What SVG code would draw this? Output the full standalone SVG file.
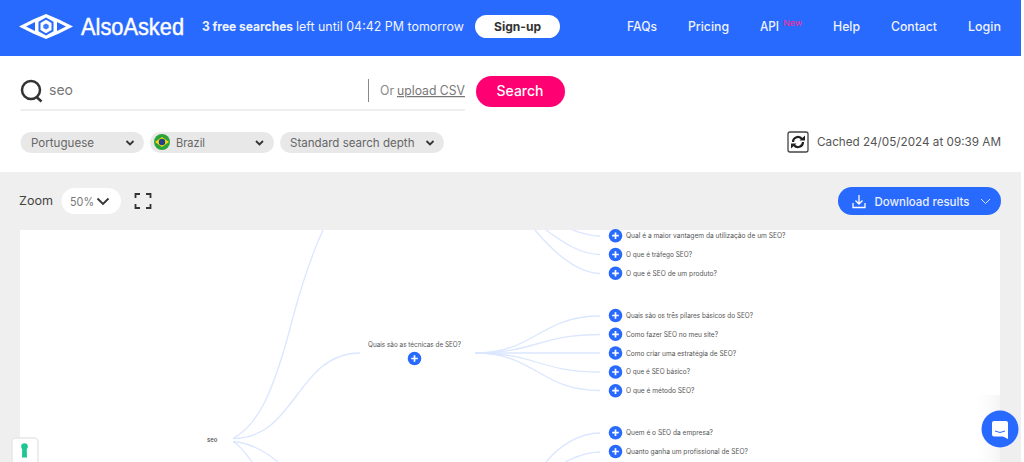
<svg xmlns="http://www.w3.org/2000/svg" width="1024" height="462" viewBox="0 0 1024 462">
<style>
text{font-family:"Inter","Open Sans","Liberation Sans",sans-serif}
.nav{font-size:12.5px;fill:#eef3ff;font-weight:500}
.pill{fill:#e8e8e8}
.pt{font-size:11.5px;fill:#666}
.chev{fill:none;stroke:#333;stroke-width:1.8}
.q{font-size:7px;fill:#555}
.link{fill:none;stroke:#dbe6ff;stroke-width:1.3}
.add{fill:#2869fe}
.plus{stroke:#fff;stroke-width:1.7;fill:none}
</style>
<defs>
<g id="plusbtn"><circle class="add" r="6.8"/><path class="plus" d="M-3.300 0H3.300M0-3.300V3.300"/></g>
<linearGradient id="shadow" x1="0" x2="1" y1="0" y2="0"><stop offset="0" stop-color="#fff" stop-opacity="0"/><stop offset="1" stop-color="#eee"/></linearGradient>
<clipPath id="canvas"><rect x="20" y="230" width="980" height="232"/></clipPath>
</defs>
<rect width="1024" height="462" fill="#fff"/>
<rect y="172" width="1021" height="290" fill="#efefef"/>
<rect x="20" y="230" width="980" height="232" fill="#fff"/>

<g id="header">
<rect width="1021" height="56" fill="#2869fe"/>
<g id="logo">
<path fill="#fff" d="M19 26.500L33 19.500L46 14L59 19.500L73 26.500L59 33.500L46 39L33 33.500Z"/>
<path fill="#2869fe" d="M26 26.500L35 22V31ZM66 26.500L57 22V31Z"/>
<path fill="#2869fe" d="M46 17.500L53.500 21.700V31.300L46 35.500L38.500 31.300V21.700Z"/>
<path fill="#fff" d="M46 19.800L51.500 23V30L46 33.200L40.500 30V23Z"/>
<path fill="#3f7bfe" d="M46 23.500L48.700 25V28L46 29.500L43.300 28V25Z"/>
</g>
<text x="81" y="35" font-size="24" fill="#fff" stroke="#fff" stroke-width=".45" textLength="103" lengthAdjust="spacingAndGlyphs" style="font-family:'Liberation Sans',sans-serif">AlsoAsked</text>
<text x="202" y="31" font-size="12.500" font-weight="700" fill="#eef3ff" textLength="91" lengthAdjust="spacingAndGlyphs">3 free searches</text>
<text x="296" y="31" font-size="12.500" fill="#eef3ff" textLength="168" lengthAdjust="spacingAndGlyphs">left until 04:42 PM tomorrow</text>
<rect x="475" y="15" width="85" height="23" rx="11.500" fill="#fff"/>
<text x="494" y="31" font-size="12" font-weight="700" fill="#333" textLength="47" lengthAdjust="spacingAndGlyphs">Sign-up</text>
<text class="nav" x="627" y="31" textLength="30" lengthAdjust="spacingAndGlyphs">FAQs</text>
<text class="nav" x="688" y="31" textLength="41" lengthAdjust="spacingAndGlyphs">Pricing</text>
<text class="nav" x="760" y="31" textLength="19" lengthAdjust="spacingAndGlyphs">API</text>
<text x="783" y="26" font-size="8" fill="#ff2a90" textLength="19" lengthAdjust="spacingAndGlyphs">New</text>
<text class="nav" x="833" y="31" textLength="27" lengthAdjust="spacingAndGlyphs">Help</text>
<text class="nav" x="891" y="31" textLength="46" lengthAdjust="spacingAndGlyphs">Contact</text>
<text class="nav" x="968" y="31" textLength="33" lengthAdjust="spacingAndGlyphs">Login</text>
</g>

<g id="search">
<circle cx="31" cy="90" r="9" fill="none" stroke="#333" stroke-width="2.500"/>
<path d="M36.500 97L41.500 101.500" stroke="#333" stroke-width="2.500" fill="none"/>
<text x="49" y="95" font-size="14.500" fill="#777" textLength="24" lengthAdjust="spacingAndGlyphs">seo</text>
<path d="M368.500 79V102" stroke="#888" stroke-width="1"/>
<text x="380" y="95" font-size="12.500" fill="#888" textLength="14" lengthAdjust="spacingAndGlyphs">Or</text>
<text x="397" y="95" font-size="12.500" fill="#777" text-decoration="underline" textLength="68" lengthAdjust="spacingAndGlyphs">upload CSV</text>
<path d="M20.500 110H465" stroke="#ddd" stroke-width="1"/>
<rect x="476" y="76" width="89" height="31" rx="15.500" fill="#ff0072"/>
<text x="496.500" y="95.500" font-size="14" font-weight="500" fill="#fff" textLength="47" lengthAdjust="spacingAndGlyphs">Search</text>
</g>

<g id="filters">
<rect class="pill" x="20.500" y="132" width="123.500" height="21" rx="10.500"/>
<text class="pt" x="31" y="146.500" textLength="63" lengthAdjust="spacingAndGlyphs">Portuguese</text>
<path class="chev" d="M126.500 141L130 144.500L133.500 141"/>
<rect class="pill" x="150" y="132" width="124" height="21" rx="10.500"/>
<circle cx="162" cy="142" r="8" fill="#2aa33b"/>
<path d="M155 142L162 137L169 142L162 147Z" fill="#f5d90a"/>
<circle cx="162" cy="142" r="3.200" fill="#23408f"/>
<text class="pt" x="176" y="146.500" textLength="29" lengthAdjust="spacingAndGlyphs">Brazil</text>
<path class="chev" d="M256 141L259.500 144.500L263 141"/>
<rect class="pill" x="280" y="132" width="164" height="21" rx="10.500"/>
<text class="pt" x="290" y="146.500" textLength="124.500" lengthAdjust="spacingAndGlyphs">Standard search depth</text>
<path class="chev" d="M426.500 141L430 144.500L433.500 141"/>
</g>

<g id="cached">
<rect x="788" y="132" width="20" height="20" rx="2" fill="#fff" stroke="#444" stroke-width="1.300"/>
<path d="M793 142A5 5 0 0 1 802 139M803 142A5 5 0 0 1 794 145" fill="none" stroke="#222" stroke-width="2.200"/>
<path d="M799.500 140.500H805V135.500ZM796.500 143.500H791V148.500Z" fill="#222"/>
<text x="817" y="146" font-size="12" fill="#555" textLength="184" lengthAdjust="spacingAndGlyphs">Cached 24/05/2024 at 09:39 AM</text>
</g>

<g id="toolbar">
<text x="19" y="205" font-size="12" fill="#444" textLength="34" lengthAdjust="spacingAndGlyphs">Zoom</text>
<rect x="61.500" y="188" width="59.500" height="26" rx="13" fill="#fff"/>
<text x="70" y="206" font-size="12" fill="#777" textLength="24" lengthAdjust="spacingAndGlyphs">50%</text>
<path d="M97.500 198.500L103 204L108.500 198.500" fill="none" stroke="#333" stroke-width="1.800"/>
<path d="M135.500 198V194H140M146 194H150.500V198M150.500 204V208H146M140 208H135.500V204" fill="none" stroke="#333" stroke-width="1.800"/>
<rect x="838" y="187" width="163" height="28" rx="14" fill="#2869fe"/>
<path d="M859 195V204M855.500 200.500L859 204L862.500 200.500M853 203V207.500H865V203" fill="none" stroke="#fff" stroke-width="1.300"/>
<text x="874.500" y="205.500" font-size="11.800" font-weight="500" fill="#e8efff" textLength="95" lengthAdjust="spacingAndGlyphs">Download results</text>
<path d="M981 199L985.500 203.500L990 199" fill="none" stroke="#dfe9ff" stroke-width="1"/>
</g>

<g id="connectors" clip-path="url(#canvas)">
<path class="link" d="M233 438.500C258 425 273.700 393 293 317C303 280 313 252 323 230"/>
<path class="link" d="M233 438.500C296 438.500 297 353 360 353"/>
<path class="link" d="M233 441.500C240 445 247 455 252 462"/>
<path class="link" d="M233 441.500C252 443 266 452 278 462"/>
<path class="link" d="M475 353C535 353 540 316 600 316"/>
<path class="link" d="M475 353C535 353 540 334.500 600 334.500"/>
<path class="link" d="M475 353H600"/>
<path class="link" d="M475 353C535 353 540 372 600 372"/>
<path class="link" d="M475 353C535 353 540 390.500 600 390.500"/>
<path class="link" d="M535 230C556 255 578 273 600 273.500"/>
<path class="link" d="M546 230C565 244 582 254.500 600 254.500"/>
<path class="link" d="M572 230C582 233 590 236 600 236"/>
<path class="link" d="M546 462C560 445 580 433 600 433"/>
<path class="link" d="M565 462C575 457 588 452 600 452"/>
</g>

<g id="node-seo"><text x="207" y="442" font-size="7" font-weight="700" fill="#777" textLength="10.500" lengthAdjust="spacingAndGlyphs">seo</text></g>
<g id="node-tecnicas"><text class="q" x="368" y="346.800" textLength="93" lengthAdjust="spacingAndGlyphs">Quais são as técnicas de SEO?</text><use href="#plusbtn" x="414.500" y="358.500"/></g>
<g id="node-1"><use href="#plusbtn" x="615.500" y="235.700"/><text class="q" x="626" y="238" textLength="159.500" lengthAdjust="spacingAndGlyphs">Qual é a maior vantagem da utilização de um SEO?</text></g>
<g id="node-2"><use href="#plusbtn" x="615.500" y="254.500"/><text class="q" x="626" y="257" textLength="66" lengthAdjust="spacingAndGlyphs">O que é tráfego SEO?</text></g>
<g id="node-3"><use href="#plusbtn" x="615.500" y="273.300"/><text class="q" x="626" y="275.700" textLength="91" lengthAdjust="spacingAndGlyphs">O que é SEO de um produto?</text></g>
<g id="node-4"><use href="#plusbtn" x="615.500" y="315.500"/><text class="q" x="626" y="317.800" textLength="127" lengthAdjust="spacingAndGlyphs">Quais são os três pilares básicos do SEO?</text></g>
<g id="node-5"><use href="#plusbtn" x="615.500" y="334.300"/><text class="q" x="626" y="336.800" textLength="92" lengthAdjust="spacingAndGlyphs">Como fazer SEO no meu site?</text></g>
<g id="node-6"><use href="#plusbtn" x="615.500" y="353"/><text class="q" x="626" y="355.500" textLength="110" lengthAdjust="spacingAndGlyphs">Como criar uma estratégia de SEO?</text></g>
<g id="node-7"><use href="#plusbtn" x="615.500" y="372"/><text class="q" x="626" y="374.300" textLength="64" lengthAdjust="spacingAndGlyphs">O que é SEO básico?</text></g>
<g id="node-8"><use href="#plusbtn" x="615.500" y="390.700"/><text class="q" x="626" y="393" textLength="68.500" lengthAdjust="spacingAndGlyphs">O que é método SEO?</text></g>
<g id="node-9"><use href="#plusbtn" x="615.500" y="432.700"/><text class="q" x="626" y="435" textLength="87" lengthAdjust="spacingAndGlyphs">Quem é o SEO da empresa?</text></g>
<g id="node-10"><use href="#plusbtn" x="615.500" y="451.500"/><text class="q" x="626" y="453.800" textLength="122" lengthAdjust="spacingAndGlyphs">Quanto ganha um profissional de SEO?</text></g>

<g id="widget-left">
<rect x="12" y="438" width="26" height="30" rx="4" fill="#fff" stroke="#e8e8e8" stroke-width="1.500"/>
<circle cx="24.500" cy="446.500" r="3.300" fill="#1fc694"/>
<path d="M22.300 447H26.700L27 457.500H22Z" fill="#1fc694"/>
</g>
<g id="widget-chat">
<rect x="970" y="395" width="30" height="67" fill="url(#shadow)" opacity=".6"/>
<circle cx="1000" cy="429" r="18.500" fill="#2869fe"/>
<path d="M994 421H1006A2 2 0 0 1 1008 423V439L1003 436.500H994A2 2 0 0 1 992 434.500V423A2 2 0 0 1 994 421Z" fill="#fff"/>
<path d="M995 431Q1000 434 1005 431" fill="none" stroke="#2869fe" stroke-width="1"/>
</g>
</svg>
